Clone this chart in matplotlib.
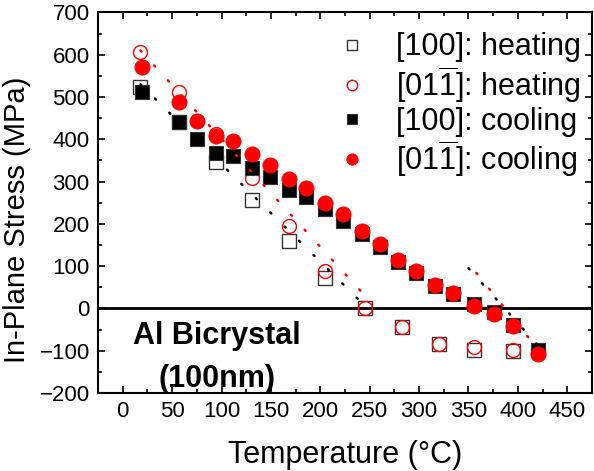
import matplotlib
matplotlib.use("Agg")
import matplotlib.pyplot as plt
from matplotlib.ticker import MultipleLocator

plt.rcParams["font.family"] = ["Liberation Sans", "DejaVu Sans"]
plt.rcParams["mathtext.fontset"] = "custom"
plt.rcParams["mathtext.rm"] = "Liberation Sans"
plt.rcParams["mathtext.it"] = "Liberation Sans"

# heating runs (open symbols)
heat_t = [18, 57, 94, 131, 168, 205, 245, 283, 320, 356, 395]
heat_100 = [524, 440, 347, 256, 160, 73, 0, -45, -85, -98, -100]
heat_011 = [607, 513, 412, 308, 195, 88, 0, -45, -84, -92, -98]

# cooling runs (filled symbols)
cool_t = [20, 57, 75, 94, 112, 131, 149, 168, 186, 205, 223,
          242, 260, 279, 297, 316, 334, 356, 376, 395, 420]
cool_100 = [511, 440, 401, 367, 360, 333, 311, 280, 264, 235, 207,
            175, 145, 110, 84, 52, 33, 10, -9, -39, -98]
cool_011 = [570, 489, 443, 408, 397, 366, 340, 305, 284, 250, 223,
            182, 152, 115, 88, 56, 36, 6, -13, -41, -108]

# dotted guide lines (end points)
guide_heat_100_t = [18, 250]
guide_heat_100_s = [530, -5]
guide_heat_011_t = [18, 250]
guide_heat_011_s = [610, 18]
guide_cool_100_t = [350, 425]
guide_cool_100_s = [95, -100]
guide_cool_011_t = [358, 420]
guide_cool_011_s = [84, -96]

labels = ["[100]: heating", r"[01$\overline{\mathrm{1}}$]: heating",
          "[100]: cooling", r"[01$\overline{\mathrm{1}}$]: cooling"]

fig = plt.figure(figsize=(5.94, 4.71), dpi=100)
ax = fig.add_axes([0.165, 0.1656, 0.8316, 0.808])

ax.axhline(0, color="black", lw=2.0, zorder=1)

h1, = ax.plot(heat_t, heat_100, ls="none", marker="s", ms=9.5, mfc="none",
              mec="#333333", mew=1.0, zorder=2)
h2, = ax.plot(heat_t, heat_011, ls="none", marker="o", ms=10, mfc="none",
              mec="red", mew=1.0, zorder=3)
h3, = ax.plot(cool_t, cool_100, ls="none", marker="s", ms=9.5, mfc="black",
              mec="#333333", mew=0.8, zorder=4)
h4, = ax.plot(cool_t, cool_011, ls="none", marker="o", ms=11, mfc="red",
              mec="red", mew=0.5, zorder=5)

dot_kw = dict(lw=1.8, dashes=(0.6, 7.5), dash_capstyle="round", zorder=6)
ax.plot(guide_heat_100_t, guide_heat_100_s, color="black", **dot_kw)
ax.plot(guide_heat_011_t, guide_heat_011_s, color="red", **dot_kw)
ax.plot(guide_cool_100_t, guide_cool_100_s, color="black", **dot_kw)
ax.plot(guide_cool_011_t, guide_cool_011_s, color="red", **dot_kw)

ax.set_xlim(-25, 475)
ax.set_ylim(-200, 700)
ax.xaxis.set_major_locator(MultipleLocator(50))
ax.xaxis.set_minor_locator(MultipleLocator(25))
ax.yaxis.set_major_locator(MultipleLocator(100))
ax.yaxis.set_minor_locator(MultipleLocator(50))
ax.tick_params(which="both", direction="in", top=True, right=True, width=1.2)
ax.tick_params(which="major", length=5, labelsize=16, pad=6)
ax.tick_params(which="minor", length=3)
for s in ax.spines.values():
    s.set_linewidth(1.5)

ax.set_xlabel("Temperature (°C)", fontsize=22)
ax.set_ylabel("In-Plane Stress (MPa)", fontsize=21)
ax.xaxis.set_label_coords(0.5, -0.124)
ax.yaxis.set_label_coords(-0.135, 0.455)

ax.text(95, -116, "Al Bicrystal\n(100nm)", fontsize=22, fontweight="bold",
        ha="center", va="center", linespacing=1.6)

leg = ax.legend([h1, h2, h3, h4], labels, loc="upper right",
                bbox_to_anchor=(1.018, 1.0), frameon=False,
                fontsize=22, markerscale=0.75, handlelength=1.0,
                handletextpad=0.95, labelspacing=0.06, borderaxespad=0.25)

fig.savefig("out.png", dpi=100)
